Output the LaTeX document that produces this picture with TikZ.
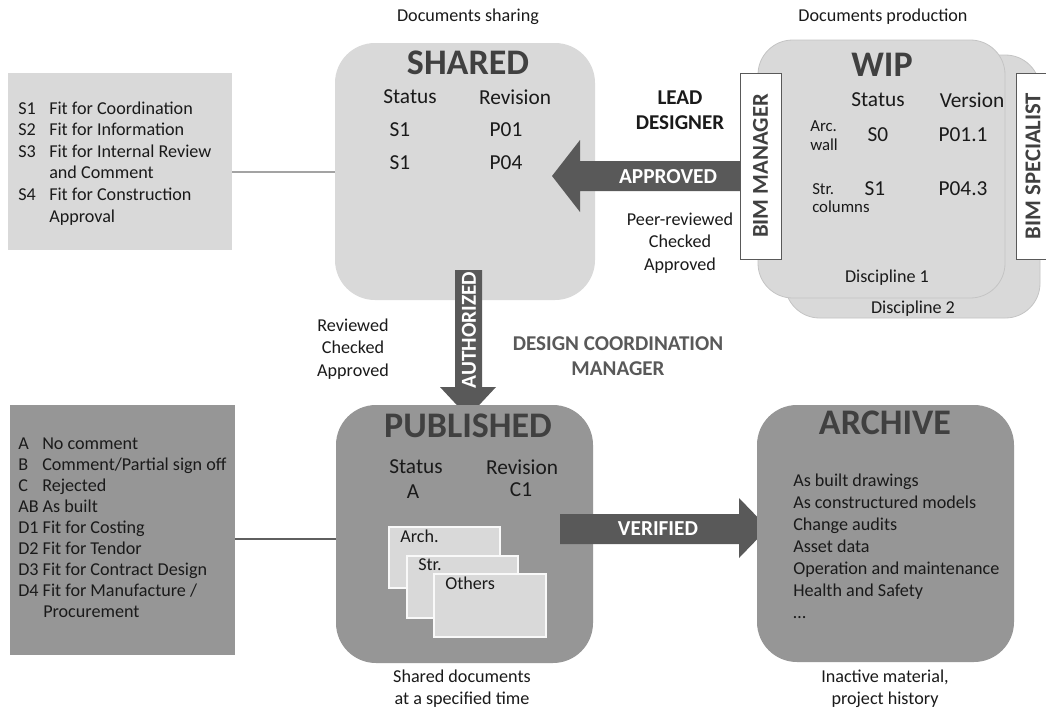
\documentclass[tikz,border=0pt]{standalone}
\usepackage{fontspec}
\setmainfont{Carlito}
\usetikzlibrary{calc}
\definecolor{lg}{HTML}{D9D9D9}
\definecolor{mg}{HTML}{969696}
\definecolor{dg}{HTML}{595959}
\definecolor{tg}{HTML}{404040}
\definecolor{edge}{HTML}{C4C4C4}
\definecolor{txt}{HTML}{1A1A1A}
\tikzset{
  rbox/.style={rounded corners=30pt, anchor=north west, inner sep=0pt, outer sep=0pt},
  sqbox/.style={anchor=north west, inner sep=0pt, outer sep=0pt},
  lbox/.style={fill=lg},
  mbox/.style={fill=mg},
  ttl/.style={font=\fontsize{27}{30}\selectfont\bfseries, text=tg, inner sep=0pt},
  body/.style={font=\fontsize{13.6}{16.7}\selectfont, text=txt, align=center, inner sep=0pt},
  big/.style={font=\fontsize{16}{19}\selectfont, text=txt, inner sep=0pt},
  small/.style={font=\fontsize{12.6}{14}\selectfont, text=txt, align=left, inner sep=0pt},
  lbl/.style={font=\fontsize{15.8}{18.75}\selectfont\bfseries, text=txt, align=center, inner sep=0pt},
  wlbl/.style={font=\fontsize{16}{19}\selectfont\bfseries, text=white, inner sep=0pt},
  rolebox/.style={sqbox, fill=white, draw=dg, line width=0.6pt},
  roletxt/.style={font=\fontsize{17}{20}\selectfont\bfseries, text=tg, rotate=90, inner sep=0pt},
  blockarrow/.style={fill=dg, draw=none},
  conn/.style={line width=1.6pt},
  docbox/.style={sqbox, fill=lg, draw=white!85!lg, line width=0.8pt}
}
\begin{document}
\begin{tikzpicture}[x=0.75pt, y=-0.75pt]
\clip (0,0) rectangle (1046,711);
\fill[white] (0,0) rectangle (1046,711);

% ---------------- top-left legend
\node[sqbox, lbox, minimum width=168pt, minimum height=132.75pt] (leg1) at (8,73) {};
\foreach \i/\t in {1/{\makebox[23.25pt][l]{S1}Fit for Coordination},
                   2/{\makebox[23.25pt][l]{S2}Fit for Information},
                   3/{\makebox[23.25pt][l]{S3}Fit for Internal Review},
                   4/{\hspace*{23.25pt}and Comment},
                   5/{\makebox[23.25pt][l]{S4}Fit for Construction},
                   6/{\hspace*{23.25pt}Approval}}
  \node[body, anchor=base west] (lega\i) at (18,{114+21.6*(\i-1)}) {\t};

% ---------------- shared
\node[rbox, lbox, minimum width=195pt, minimum height=192.75pt] (shared) at (335,43) {};
\node[body] (shcap) at (468,17) {Documents sharing};
\node[ttl] (shttl) at (468,63) {SHARED};
\node[big] (shst) at (410,97) {Status};
\node[big] (shrv) at (515,97) {Revision};
\node[big] (shs1) at (400,130) {S1};
\node[big] (shp1) at (506,130) {P01};
\node[big] (shs2) at (400,163) {S1};
\node[big] (shp2) at (506,163) {P04};

\coordinate (c1) at (232,172);
\draw[conn, color=mg!80!lg] (leg1.east |- c1) -- (shared.west |- c1);

% ---------------- WIP
\node[rbox, lbox, draw=edge, line width=0.6pt, minimum width=191.25pt, minimum height=197.25pt, rounded corners=26pt] (wip2) at (785,55) {};
\node[rbox, lbox, draw=edge, line width=0.6pt, minimum width=185.25pt, minimum height=193.5pt, rounded corners=26pt] (wip1) at (758,40) {};
\node[body] (wpcap) at (883,17) {Documents production};
\node[ttl] (wpttl) at (882,65) {WIP};
\node[big] (wpst) at (878,100) {Status};
\node[big] (wpvr) at (972,100) {Version};
\node[small, anchor=west] (wparc) at (810,136) {Arc.\\wall};
\node[big] (wps0) at (878,135) {S0};
\node[big] (wpp0) at (963,135) {P01.1};
\node[small, anchor=west] (wpstr) at (812,198) {Str.\\columns};
\node[big] (wps1) at (875,189) {S1};
\node[big] (wpp4) at (963,189) {P04.3};
\node[body] (wpd1) at (887,278) {Discipline 1};
\node[body] (wpd2) at (913,309) {Discipline 2};

% approved arrow
\coordinate (aptail) at (742,176);
\coordinate (aptip) at (552,176);
\fill[blockarrow] (aptail |- 0,161) -- (580,161) -- (580,140) -- (aptip) -- (580,212) -- (580,191) -- (aptail |- 0,191) -- cycle;
\node[wlbl] (apl) at (668,177) {APPROVED};
\node[lbl] (lead) at (680,110) {LEAD\\DESIGNER};
\node[body] (peer) at (680,243) {Peer-reviewed\\Checked\\Approved};

% role boxes
\node[rolebox, minimum width=30.75pt, minimum height=139.5pt] (bimm) at (740,73) {};
\node[roletxt] (bimmt) at (bimm.center) {BIM MANAGER};
\node[rolebox, minimum width=30pt, minimum height=139.5pt] (bims) at (1016,73) {};
\node[roletxt] (bimst) at (1033,166) {BIM SPECIALIST};

% ---------------- authorized arrow
\coordinate (autail) at (468,270);
\coordinate (autip) at (468,417);
\fill[blockarrow] (455,270) -- (455,387) -- (440,387) -- (autip) -- (496,387) -- (482,387) -- (482,270) -- cycle;
\node[wlbl, rotate=90] (aul) at (469,330) {AUTHORIZED};
\node[body] (rev) at (353,349) {Reviewed\\Checked\\Approved};
\node[lbl, text=dg] (dcm) at (618,356) {DESIGN COORDINATION\\MANAGER};

% ---------------- bottom-left legend
\node[sqbox, mbox, minimum width=168.75pt, minimum height=187.5pt] (leg2) at (10,405) {};
\foreach \i/\t in {1/{\makebox[18pt][l]{A}No comment},
                   2/{\makebox[18pt][l]{B}Comment/Partial sign off},
                   3/{\makebox[18pt][l]{C}Rejected},
                   4/{AB As built},
                   5/{D1 Fit for Costing},
                   6/{D2 Fit for Tendor},
                   7/{D3 Fit for Contract Design},
                   8/{D4 Fit for Manufacture /},
                   9/{\hspace*{18.75pt}Procurement}}
  \node[body, anchor=base west] (legb\i) at (18,{449+21*(\i-1)}) {\t};

% ---------------- published
\node[rbox, mbox, minimum width=192.75pt, minimum height=193.5pt] (pub) at (336,405) {};
\node[ttl] (pbttl) at (468,426) {PUBLISHED};
\node[big] (pbst) at (416,467) {Status};
\node[big] (pba) at (413,492) {A};
\node[big] (pbrv) at (522,467) {Revision};
\node[big] (pbc) at (521,490) {C1};
\node[docbox, minimum width=83.25pt, minimum height=45.75pt] (darch) at (389,527) {};
\node[body, anchor=west] (darchl) at (400,536) {Arch.};
\node[docbox, minimum width=83.25pt, minimum height=46.5pt] (dstr) at (407,556) {};
\node[body, anchor=west] (dstrl) at (418,565) {Str.};
\node[docbox, minimum width=84pt, minimum height=47.25pt] (doth) at (434,574) {};
\node[body, anchor=west] (dothl) at (445,583) {Others};
\node[body] (pbcap) at (462,689) {Shared documents\\at a specified time};

\coordinate (c2) at (235,539);
\draw[conn, color=dg!90!mg] (leg2.east |- c2) -- (pub.west |- c2);

% ---------------- verified arrow
\coordinate (vtail) at (560,528);
\coordinate (vtip) at (768,528);
\fill[blockarrow] (vtail |- 0,514) -- (739,514) -- (739,498) -- (vtip) -- (739,558) -- (739,544) -- (vtail |- 0,544) -- cycle;
\node[wlbl] (vl) at (658,529) {VERIFIED};

% ---------------- archive
\node[rbox, mbox, minimum width=192.75pt, minimum height=192.75pt] (arc) at (757,405) {};
\node[ttl] (arttl) at (885,423) {ARCHIVE};
\foreach \i/\t in {1/As built drawings, 2/As constructured models, 3/Change audits, 4/Asset data,
                   5/Operation and maintenance, 6/Health and Safety, 7/\dots}
  \node[body, anchor=base west] (ari\i) at (793,{486+22*(\i-1)}) {\t};
\node[body] (arcap) at (885,689) {Inactive material,\\project history};
\end{tikzpicture}
\end{document}
